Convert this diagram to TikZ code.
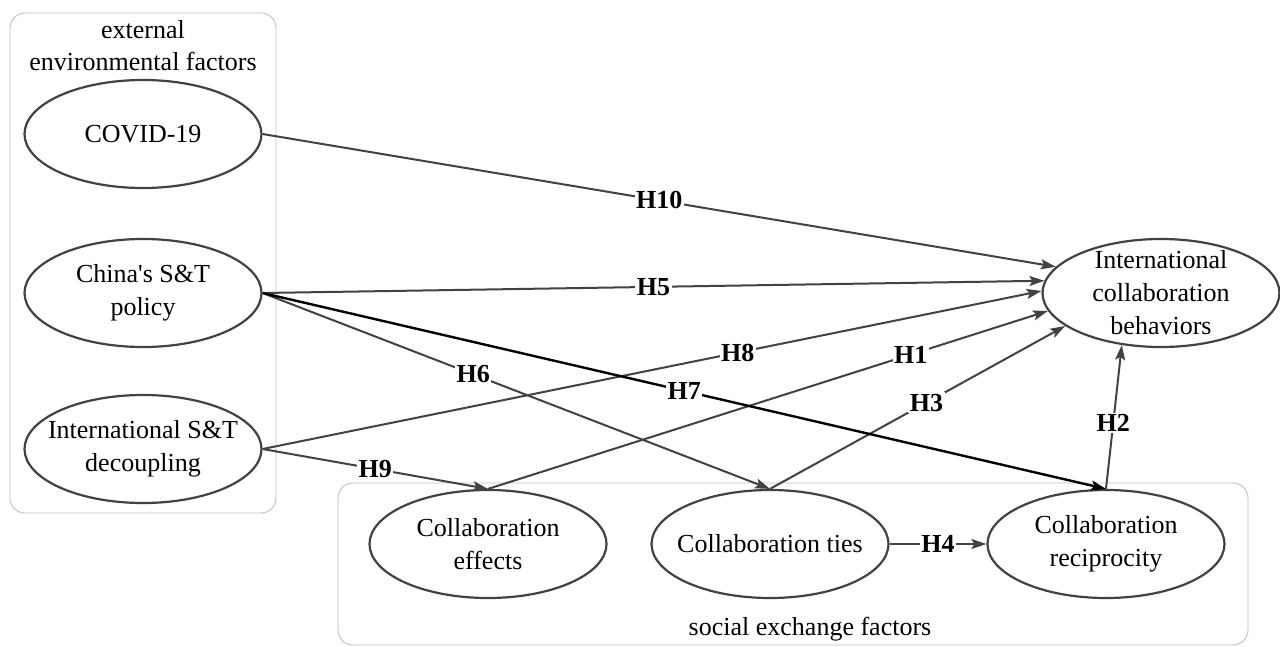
\documentclass[tikz,border=0pt]{standalone}
\usepackage{fontspec}
\newfontfamily\dfont{Liberation Serif}
\usetikzlibrary{shapes.geometric,arrows.meta}
\definecolor{edgegray}{RGB}{66,66,66}
\definecolor{boxgray}{RGB}{190,190,190}
\begin{document}
\begin{tikzpicture}[x=1pt,y=-1pt,
  factor/.style={ellipse, draw=edgegray, line width=2.2pt, minimum width=237pt, minimum height=108pt,
    inner xsep=-20pt, inner ysep=-10pt, align=center, font=\dfont\fontsize{26}{33}\selectfont},
  grp/.style={draw=boxgray, line width=0.9pt, rounded corners=15pt},
  title/.style={align=center, inner sep=0pt, font=\dfont\fontsize{26}{32}\selectfont},
  link/.style={draw=edgegray, line width=2pt, -{Stealth[length=15pt,width=10pt,inset=3pt]}},
  hyp/.style={fill=white, inner sep=1.5pt, font=\dfont\fontsize{26}{26}\bfseries\selectfont}]
\useasboundingbox (0,0) rectangle (1280,646);
\fill[white] (0,0) rectangle (1280,646);
% groups
\draw[grp] (10,13) rectangle (276,513);
\draw[grp] (338,483) rectangle (1248,645);
\node[title] (exttitle) at (143,46) {external\\environmental factors};
\node[title] (soctitle) at (810,629) {social exchange factors};
% factors
\node[factor] (covid) at (143,134) {COVID-19};
\node[factor] (china) at (143,293) {China's S\&T\\policy};
\node[factor] (decoup) at (143,449) {International S\&T\\decoupling};
\node[factor] (icb) at (1161,293) {International\\collaboration\\behaviors};
\node[factor] (effects) at (488,544) {Collaboration\\effects};
\node[factor] (ties) at (770,544) {Collaboration ties};
\node[factor] (recip) at (1106,544) {Collaboration\\reciprocity};
% hypotheses
\draw[link] (covid.east) -- node[hyp,pos=0.5]{H10} (icb.166);
\draw[link] (china.east) -- node[hyp,pos=0.5]{H5} (icb.174);
\draw[link] (decoup.east) -- node[hyp,pos=0.61]{H8} (icb.179);
\draw[link] (effects.north) -- node[hyp,pos=0.755]{H1} (icb.189);
\draw[link] (ties.north) -- node[hyp,pos=0.53]{H3} (icb.199);
\draw[link] (china.east) -- node[hyp,pos=0.415]{H6} (ties.north);
\draw[link, draw=black, line width=2.4pt] (china.east) -- node[hyp,pos=0.5]{H7} (recip.north);
\draw[link] (decoup.east) -- node[hyp,pos=0.5]{H9} (effects.north);
\draw[link] (recip.north) -- node[hyp,pos=0.46]{H2} (icb.233);
\draw[link] (ties.east) -- node[hyp]{H4} (recip.west);
\end{tikzpicture}
\end{document}
